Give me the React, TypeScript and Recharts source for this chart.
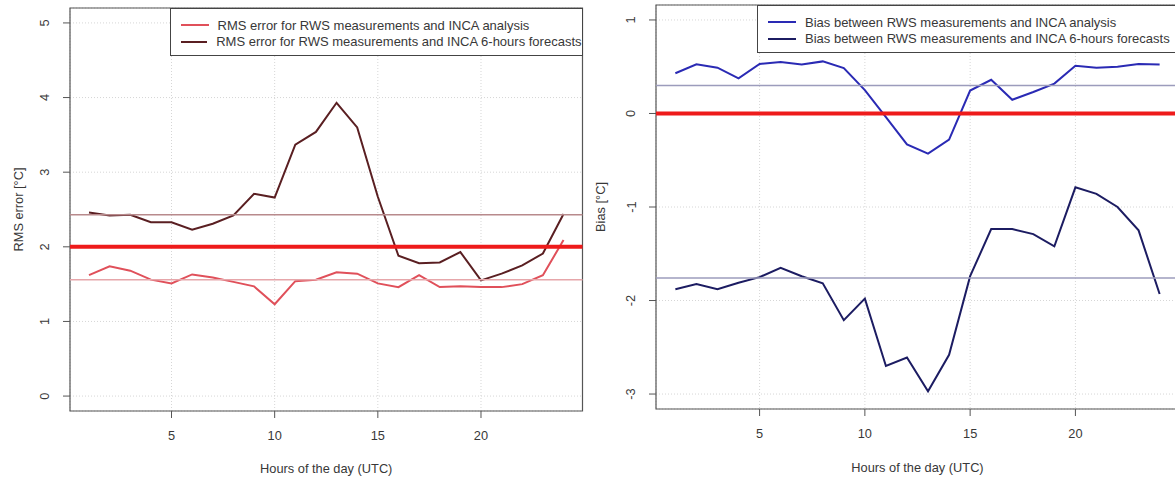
import { LineChart, Line, XAxis, YAxis, CartesianGrid, ReferenceLine, ReferenceArea } from "recharts";

const hours = [1, 2, 3, 4, 5, 6, 7, 8, 9, 10, 11, 12, 13, 14, 15, 16, 17, 18, 19, 20, 21, 22, 23, 24];

// left panel: RMS error
const rmsAnalysis = [1.62, 1.74, 1.68, 1.56, 1.51, 1.63, 1.59, 1.53, 1.47, 1.23, 1.54, 1.56, 1.66, 1.64, 1.51, 1.46, 1.62, 1.46, 1.47, 1.46, 1.46, 1.5, 1.62, 2.09];
const rmsForecast = [2.46, 2.42, 2.43, 2.33, 2.33, 2.23, 2.31, 2.42, 2.71, 2.66, 3.37, 3.54, 3.93, 3.6, 2.67, 1.88, 1.78, 1.79, 1.93, 1.55, 1.64, 1.75, 1.91, 2.44];
const rmsMeanAnalysis = 1.56;
const rmsMeanForecast = 2.43;
const rmsThreshold = 2;

// right panel: bias
const biasAnalysis = [0.43, 0.525, 0.49, 0.375, 0.53, 0.55, 0.525, 0.557, 0.485, 0.25, -0.04, -0.33, -0.43, -0.28, 0.245, 0.36, 0.147, 0.23, 0.32, 0.51, 0.49, 0.5, 0.53, 0.525];
const biasForecast = [-1.88, -1.825, -1.88, -1.81, -1.75, -1.65, -1.74, -1.815, -2.21, -1.98, -2.7, -2.61, -2.97, -2.58, -1.74, -1.236, -1.236, -1.29, -1.42, -0.79, -0.86, -1.0, -1.25, -1.93];
const biasMeanAnalysis = 0.3;
const biasMeanForecast = -1.76;
const biasZero = 0;

const xTicks = [5, 10, 15, 20];
const rmsTicks = [0, 1, 2, 3, 4, 5];
const biasTicks = [-3, -2, -1, 0, 1];

const rmsNames = ["RMS error for RWS measurements and INCA analysis", "RMS error for RWS measurements and INCA 6-hours forecasts"];
const biasNames = ["Bias between RWS measurements and INCA analysis", "Bias between RWS measurements and INCA 6-hours forecasts"];

const rmsData = hours.map((h, i) => ({ h, a: rmsAnalysis[i], f: rmsForecast[i] }));
const biasData = hours.map((h, i) => ({ h, a: biasAnalysis[i], f: biasForecast[i] }));

const FONT = "'Liberation Sans', Arial, sans-serif";
const TXT = "#383838";
const FS = 12.8;
const X_DOMAIN: [number, number] = [0.08, 24.92];

const XTick = ({ x, y, payload }: any) => (
  <text x={x} y={y + 15} textAnchor="middle" dominantBaseline="central" fontSize={FS} fontFamily={FONT} fill={TXT}>
    {payload.value}
  </text>
);

const YTick = ({ x, y, payload }: any) => (
  <text
    x={x - 16}
    y={y}
    transform={`rotate(-90 ${x - 16} ${y})`}
    textAnchor="middle"
    dominantBaseline="central"
    fontSize={FS}
    fontFamily={FONT}
    fill={TXT}
  >
    {payload.value}
  </text>
);

function yTitle(text: string, dx: number) {
  return (p: any) => {
    const vb = p.viewBox;
    const cx = vb.x + dx;
    const cy = vb.y + vb.height / 2;
    return (
      <text x={cx} y={cy} transform={`rotate(-90 ${cx} ${cy})`} textAnchor="middle" dominantBaseline="central" fontSize={FS} fontFamily={FONT} fill={TXT}>
        {text}
      </text>
    );
  };
}

function xTitle(text: string, dy: number) {
  return (p: any) => {
    const vb = p.viewBox;
    return (
      <text x={vb.x + vb.width / 2} y={vb.y + dy} textAnchor="middle" dominantBaseline="central" fontSize={FS} fontFamily={FONT} fill={TXT}>
        {text}
      </text>
    );
  };
}

function LegendBox({ names, colors, style }: { names: string[]; colors: string[]; style: React.CSSProperties }) {
  return (
    <div
      style={{
        position: "absolute",
        boxSizing: "border-box",
        border: "1px solid #444",
        background: "#fff",
        fontFamily: FONT,
        fontSize: 13,
        color: TXT,
        paddingLeft: 10,
        ...style,
      }}
    >
      {names.map((n, i) => (
        <div key={n} style={{ display: "flex", alignItems: "center", height: 16.5, whiteSpace: "nowrap" }}>
          <span style={{ display: "inline-block", width: 28, height: 2, background: colors[i], marginRight: 9 }} />
          {n}
        </div>
      ))}
    </div>
  );
}

const rmsColors = ["#e0505a", "#5a1f22"];
const biasColors = ["#2a2ab4", "#1c1c62"];

export default function App() {
  return (
    <div style={{ position: "absolute", left: 0, top: 0, width: 1175, height: 477, overflow: "hidden", background: "#fff" }}>
      <div style={{ position: "absolute", left: 0, top: 0 }}>
        <LineChart width={600} height={477} data={rmsData} margin={{ top: 8, right: 17.5, bottom: 0, left: 10 }}>
          <CartesianGrid stroke="#d6d6d6" strokeDasharray="1 2" />
          <XAxis
            dataKey="h"
            type="number"
            domain={X_DOMAIN}
            allowDataOverflow
            ticks={xTicks}
            height={66}
            axisLine={false}
            tickSize={7}
            tickMargin={2}
            tickLine={{ stroke: "#555" }}
            tick={<XTick />}
            label={{ content: xTitle("Hours of the day (UTC)", 57) }}
          />
          <YAxis
            type="number"
            domain={[-0.2, 5.2]}
            allowDataOverflow
            ticks={rmsTicks}
            width={60}
            axisLine={false}
            tickSize={7}
            tickMargin={2}
            tickLine={{ stroke: "#555" }}
            tick={<YTick />}
            label={{ content: yTitle("RMS error [°C]", 8) }}
          />
          <ReferenceArea x1={X_DOMAIN[0]} x2={X_DOMAIN[1]} y1={-0.2} y2={5.2} fill="none" stroke="#555" strokeWidth={1.2} />
          <Line dataKey="a" name={rmsNames[0]} stroke={rmsColors[0]} strokeWidth={2} dot={false} isAnimationActive={false} />
          <Line dataKey="f" name={rmsNames[1]} stroke={rmsColors[1]} strokeWidth={2} dot={false} isAnimationActive={false} />
          <ReferenceLine y={rmsThreshold} stroke="#ee1b1b" strokeWidth={4} />
          <ReferenceLine y={rmsMeanForecast} stroke="#b88a8c" strokeWidth={1.5} />
          <ReferenceLine y={rmsMeanAnalysis} stroke="#e6a6aa" strokeWidth={1.5} />
        </LineChart>
      </div>
      <LegendBox names={rmsNames} colors={rmsColors} style={{ left: 169.5, top: 8, width: 413, height: 48, paddingTop: 8 }} />

      <div style={{ position: "absolute", left: 590, top: 0 }}>
        <LineChart width={600} height={477} data={biasData} margin={{ top: 5, right: 11, bottom: 0, left: 6 }}>
          <CartesianGrid stroke="#d6d6d6" strokeDasharray="1 2" />
          <XAxis
            dataKey="h"
            type="number"
            domain={X_DOMAIN}
            allowDataOverflow
            ticks={xTicks}
            height={68}
            axisLine={false}
            tickSize={7}
            tickMargin={2}
            tickLine={{ stroke: "#555" }}
            tick={<XTick />}
            label={{ content: xTitle("Hours of the day (UTC)", 58) }}
          />
          <YAxis
            type="number"
            domain={[-3.16, 1.16]}
            allowDataOverflow
            ticks={biasTicks}
            width={60}
            axisLine={false}
            tickSize={7}
            tickMargin={2}
            tickLine={{ stroke: "#555" }}
            tick={<YTick />}
            label={{ content: yTitle("Bias [°C]", 4) }}
          />
          <ReferenceArea x1={X_DOMAIN[0]} x2={X_DOMAIN[1]} y1={-3.16} y2={1.16} fill="none" stroke="#555" strokeWidth={1.2} />
          <Line dataKey="a" name={biasNames[0]} stroke={biasColors[0]} strokeWidth={2} dot={false} isAnimationActive={false} />
          <Line dataKey="f" name={biasNames[1]} stroke={biasColors[1]} strokeWidth={2} dot={false} isAnimationActive={false} />
          <ReferenceLine y={biasZero} stroke="#ee1b1b" strokeWidth={4} />
          <ReferenceLine y={biasMeanAnalysis} stroke="#9c9cbc" strokeWidth={1.5} />
          <ReferenceLine y={biasMeanForecast} stroke="#9c9cbc" strokeWidth={1.5} />
        </LineChart>
      </div>
      <LegendBox names={biasNames} colors={biasColors} style={{ left: 757, top: 5, width: 430, height: 48, paddingTop: 8 }} />
    </div>
  );
}
